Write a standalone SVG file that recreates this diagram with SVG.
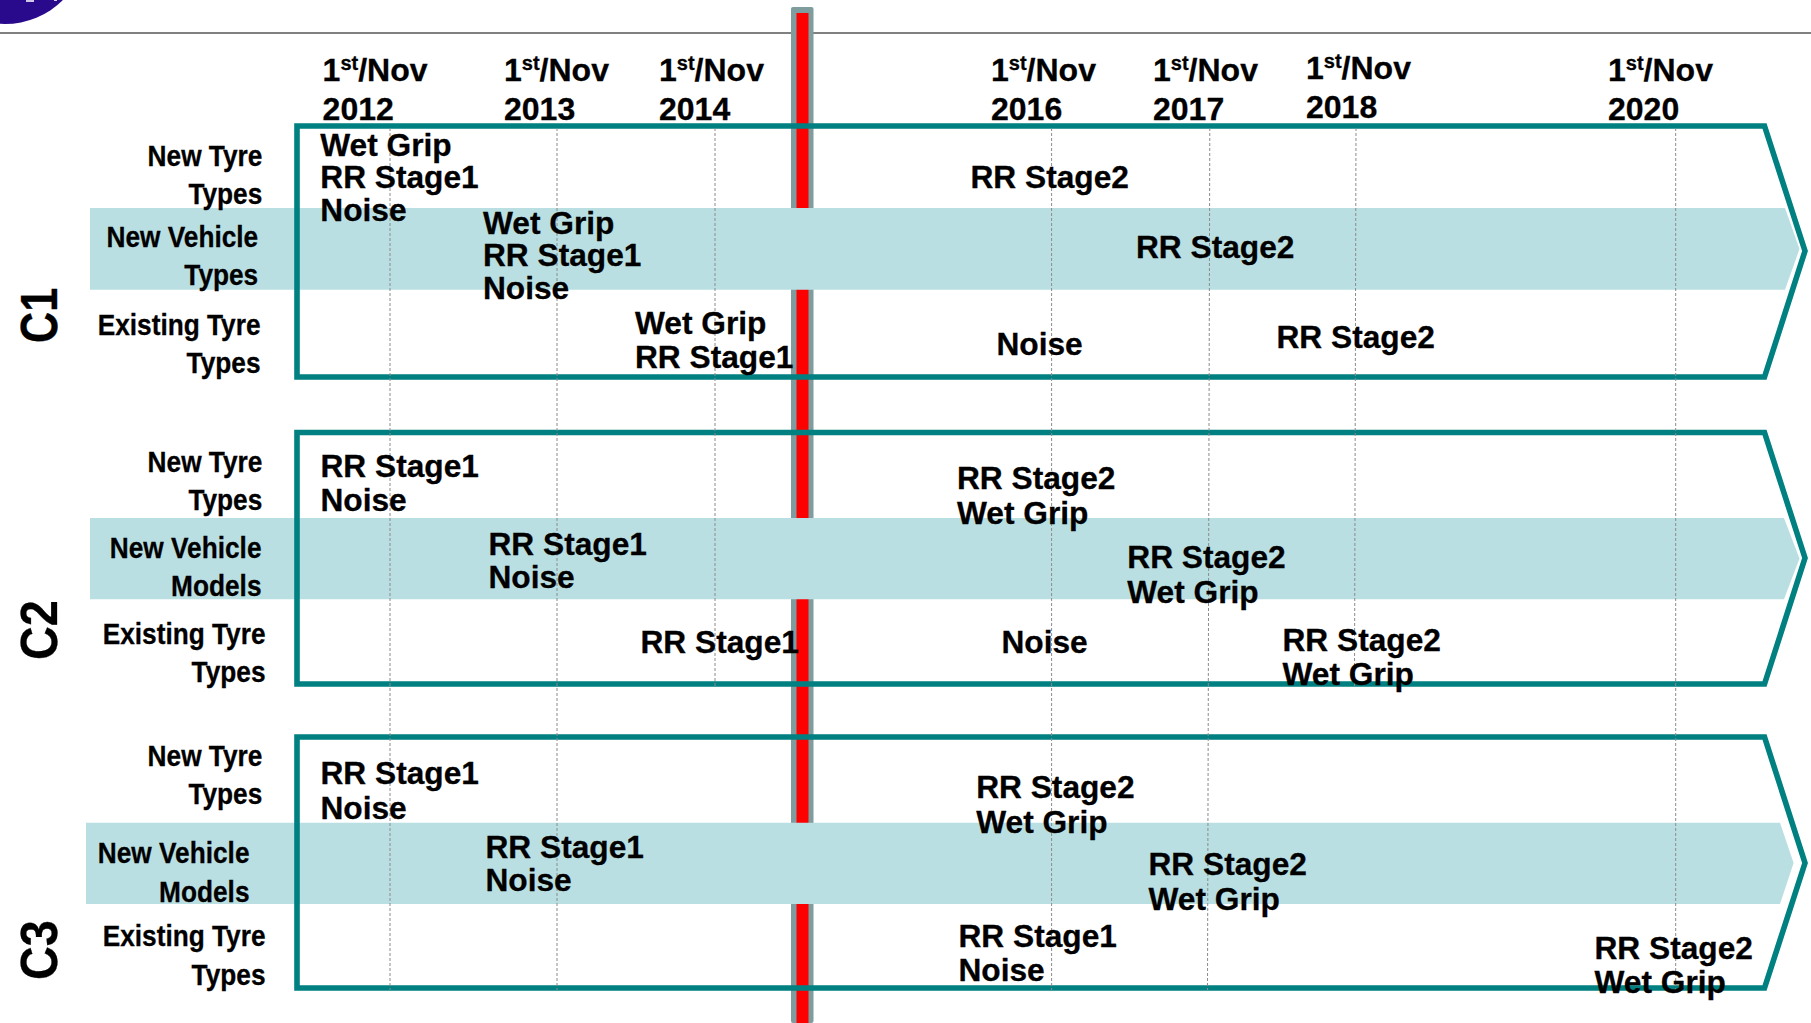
<svg xmlns="http://www.w3.org/2000/svg" width="1811" height="1023" viewBox="0 0 1811 1023">
<style>
text{font-family:"Liberation Sans",Arial,sans-serif;font-weight:700;fill:#000;stroke:#000;stroke-width:.3}
.c{font-size:32px}
.d{font-size:32px}
.s{font-size:20px}
.l{font-size:30px;text-anchor:end}
.k{font-size:52px}
.band{fill:#b9dfe3}
.frame{fill:none;stroke:#008080;stroke-width:5.6}
.dash{stroke:#8a8a8a;stroke-width:1;stroke-dasharray:3 2;fill:none}
</style>
<rect width="1811" height="1023" fill="#fff"/>
<g id="logo"><circle cx="5" cy="-58" r="82" fill="#2a0a8c"/><rect x="26" y="0" width="8" height="2" fill="#cfc8ea"/><rect x="54" y="0" width="3" height="1" fill="#cfc8ea"/></g>
<rect id="header-rule" x="0" y="32" width="1811" height="2" fill="#808080"/>
<g id="today-marker"><rect x="791" y="7" width="22.500" height="1016" rx="2" fill="#7f9c9e"/><rect x="796.500" y="13" width="12" height="1010" fill="#f00"/></g>
<g id="bands">
<polygon class="band" points="90,208 1785,208 1799.500,249 1785,289.700 90,289.700"/>
<polygon class="band" points="90,518 1784,518 1799.500,558.500 1784,599.300 90,599.300"/>
<polygon class="band" points="86,822.700 1780,822.700 1793.600,863 1780,904 86,904"/>
</g>
<g id="frames">
<polygon id="frame-c1" class="frame" points="297,126 1764.500,126 1805,251 1764.500,377 297,377"/>
<polygon id="frame-c2" class="frame" points="297,432.500 1764.500,432.500 1805,558 1764.500,684 297,684"/>
<polygon id="frame-c3" class="frame" points="297,737 1764.500,737 1805,863 1764.500,988 297,988"/>
</g>
<g id="connectors">
<path class="dash" d="M390 128V990"/>
<path class="dash" d="M557 128V990"/>
<path class="dash" d="M715 128V686"/>
<path class="dash" d="M1051.600 128V990"/>
<path class="dash" d="M1209.800 128L1207.500 990"/>
<path class="dash" d="M1356 128L1354.500 686"/>
<path class="dash" d="M1675.700 128V990"/>
</g>
<g id="dates" transform="translate(0 1)">
<text class="d" x="322.600" y="80">1<tspan class="s" dy="-11">st</tspan><tspan dy="11">/Nov</tspan></text>
<text class="d" x="322.600" y="119.300">2012</text>
<text class="d" x="504" y="80">1<tspan class="s" dy="-11">st</tspan><tspan dy="11">/Nov</tspan></text>
<text class="d" x="504" y="119.300">2013</text>
<text class="d" x="659" y="80">1<tspan class="s" dy="-11">st</tspan><tspan dy="11">/Nov</tspan></text>
<text class="d" x="659" y="119.300">2014</text>
<text class="d" x="991" y="80">1<tspan class="s" dy="-11">st</tspan><tspan dy="11">/Nov</tspan></text>
<text class="d" x="991" y="119.300">2016</text>
<text class="d" x="1153" y="80">1<tspan class="s" dy="-11">st</tspan><tspan dy="11">/Nov</tspan></text>
<text class="d" x="1153" y="119.300">2017</text>
<text class="d" x="1306" y="78">1<tspan class="s" dy="-11">st</tspan><tspan dy="11">/Nov</tspan></text>
<text class="d" x="1306" y="116.700">2018</text>
<text class="d" x="1608" y="80">1<tspan class="s" dy="-11">st</tspan><tspan dy="11">/Nov</tspan></text>
<text class="d" x="1608" y="119.300">2020</text>
</g>
<g id="category-labels">
<text class="k" transform="matrix(0 -.83 1 0 56.800 343)">C1</text>
<text class="k" transform="matrix(0 -.9 1 0 56.800 660)">C2</text>
<text class="k" transform="matrix(0 -.9 1 0 56.800 980)">C3</text>
</g>
<g id="row-labels" transform="translate(0 .7)">
<text class="l" transform="matrix(.875 0 0 1 262.300 165)">New Tyre</text>
<text class="l" transform="matrix(.875 0 0 1 262.300 203.300)">Types</text>
<text class="l" transform="matrix(.875 0 0 1 258.200 246)">New Vehicle</text>
<text class="l" transform="matrix(.875 0 0 1 258.200 284)">Types</text>
<text class="l" transform="matrix(.875 0 0 1 260.500 334)">Existing Tyre</text>
<text class="l" transform="matrix(.875 0 0 1 260.500 372.300)">Types</text>
<text class="l" transform="matrix(.875 0 0 1 262.300 471)">New Tyre</text>
<text class="l" transform="matrix(.875 0 0 1 262.300 509)">Types</text>
<text class="l" transform="matrix(.875 0 0 1 261.500 557)">New Vehicle</text>
<text class="l" transform="matrix(.875 0 0 1 261.500 595)">Models</text>
<text class="l" transform="matrix(.875 0 0 1 265.500 643.300)">Existing Tyre</text>
<text class="l" transform="matrix(.875 0 0 1 265.500 681)">Types</text>
<text class="l" transform="matrix(.875 0 0 1 262.300 765)">New Tyre</text>
<text class="l" transform="matrix(.875 0 0 1 262.300 803.300)">Types</text>
<text class="l" transform="matrix(.875 0 0 1 249.500 862.700)">New Vehicle</text>
<text class="l" transform="matrix(.875 0 0 1 249.500 901)">Models</text>
<text class="l" transform="matrix(.875 0 0 1 265.500 945.700)">Existing Tyre</text>
<text class="l" transform="matrix(.875 0 0 1 265.500 984.300)">Types</text>
</g>
<g id="c1-items" transform="translate(0 1)">
<text class="c" transform="matrix(.99 0 0 1 320.300 155)">Wet Grip</text>
<text class="c" transform="matrix(.99 0 0 1 320.300 187.200)">RR Stage1</text>
<text class="c" transform="matrix(.99 0 0 1 320.300 220)">Noise</text>
<text class="c" transform="matrix(.99 0 0 1 483 233.300)">Wet Grip</text>
<text class="c" transform="matrix(.99 0 0 1 483 265.200)">RR Stage1</text>
<text class="c" transform="matrix(.99 0 0 1 483 298.300)">Noise</text>
<text class="c" transform="matrix(.99 0 0 1 635 333.300)">Wet Grip</text>
<text class="c" transform="matrix(.99 0 0 1 635 367.300)">RR Stage1</text>
<text class="c" transform="matrix(.99 0 0 1 970.500 187.200)">RR Stage2</text>
<text class="c" transform="matrix(.99 0 0 1 1136 257.200)">RR Stage2</text>
<text class="c" transform="matrix(.99 0 0 1 996.500 354.300)">Noise</text>
<text class="c" transform="matrix(.99 0 0 1 1276.500 347.200)">RR Stage2</text>
</g>
<g id="c2-items" transform="translate(0 .7)">
<text class="c" transform="matrix(.99 0 0 1 320.500 476)">RR Stage1</text>
<text class="c" transform="matrix(.99 0 0 1 320.500 510.700)">Noise</text>
<text class="c" transform="matrix(.99 0 0 1 488.500 554.500)">RR Stage1</text>
<text class="c" transform="matrix(.99 0 0 1 488.500 587.700)">Noise</text>
<text class="c" transform="matrix(.99 0 0 1 640.500 652.200)">RR Stage1</text>
<text class="c" transform="matrix(.99 0 0 1 957 488.700)">RR Stage2</text>
<text class="c" transform="matrix(.99 0 0 1 957 523.300)">Wet Grip</text>
<text class="c" transform="matrix(.99 0 0 1 1127.300 567.300)">RR Stage2</text>
<text class="c" transform="matrix(.99 0 0 1 1127.300 602)">Wet Grip</text>
<text class="c" transform="matrix(.99 0 0 1 1001.500 652.700)">Noise</text>
<text class="c" transform="matrix(.99 0 0 1 1282.500 650.300)">RR Stage2</text>
<text class="c" transform="matrix(.99 0 0 1 1282.500 684.300)">Wet Grip</text>
</g>
<g id="c3-items" transform="translate(0 .7)">
<text class="c" transform="matrix(.99 0 0 1 320.500 783.500)">RR Stage1</text>
<text class="c" transform="matrix(.99 0 0 1 320.500 818.300)">Noise</text>
<text class="c" transform="matrix(.99 0 0 1 485.500 857.200)">RR Stage1</text>
<text class="c" transform="matrix(.99 0 0 1 485.500 890.300)">Noise</text>
<text class="c" transform="matrix(.99 0 0 1 976.200 797)">RR Stage2</text>
<text class="c" transform="matrix(.99 0 0 1 976.200 832)">Wet Grip</text>
<text class="c" transform="matrix(.99 0 0 1 1148.500 874.700)">RR Stage2</text>
<text class="c" transform="matrix(.99 0 0 1 1148.500 909.300)">Wet Grip</text>
<text class="c" transform="matrix(.99 0 0 1 958.500 946.300)">RR Stage1</text>
<text class="c" transform="matrix(.99 0 0 1 958.500 980)">Noise</text>
<text class="c" transform="matrix(.99 0 0 1 1594.500 958)">RR Stage2</text>
<text class="c" transform="matrix(.99 0 0 1 1594.500 992.300)">Wet Grip</text>
</g>
</svg>
